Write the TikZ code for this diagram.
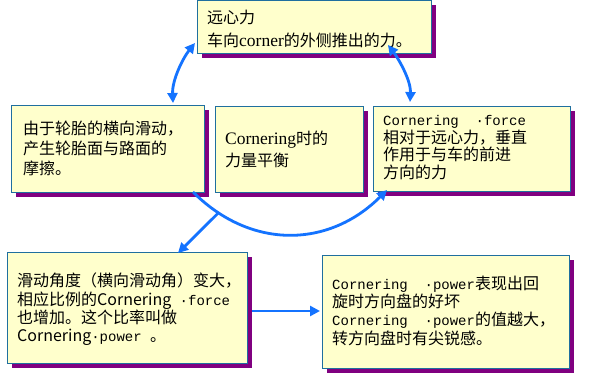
\documentclass[tikz,border=0pt]{standalone}
\usepackage{fontspec}
\setmainfont{Noto Sans CJK SC}
\newfontfamily\monofnt{Liberation Mono}
\newfontfamily\seriffnt{Liberation Serif}
\usetikzlibrary{arrows.meta,shadows}
\definecolor{boxfill}{RGB}{255,255,204}
\definecolor{boxline}{RGB}{31,111,159}
\definecolor{shadowc}{RGB}{128,0,128}
\definecolor{arrowc}{RGB}{20,115,255}
\newcommand\mn[1]{{\monofnt\fontsize{14}{14}\selectfont #1}}
\newcommand\sr[1]{{\seriffnt\fontsize{17.5}{17.5}\selectfont #1}}
\begin{document}
\begin{tikzpicture}[x=1pt,y=-1pt,
  box/.style={draw=boxline, fill=boxfill, line width=1.2pt, anchor=north west, inner sep=0pt,
    drop shadow={shadow xshift=4.5pt, shadow yshift=-4.5pt, fill=shadowc, opacity=1}},
  txt/.style={anchor=west, align=left, inner sep=0pt},
  arr/.style={draw=arrowc, line width=2.8pt, -{Triangle[length=10pt,width=10pt]}},
  arrb/.style={draw=arrowc, line width=2.8pt, {Triangle[length=10pt,width=10pt]}-{Triangle[length=10pt,width=10pt]}},
]
\useasboundingbox[fill=white] (0,0) rectangle (591,374);

% boxes
\node[box, minimum width=234pt, minimum height=53pt] (top) at (197,0) {};
\node[box, minimum width=193pt, minimum height=87pt] (A) at (11,105) {};
\node[box, minimum width=148pt, minimum height=86pt] (B) at (215,106) {};
\node[box, minimum width=197pt, minimum height=85pt] (C) at (373,106) {};
\node[box, minimum width=240pt, minimum height=111pt] (D) at (7,252) {};
\node[box, minimum width=247pt, minimum height=113pt] (E) at (322,255) {};

% texts
\node[txt, font=\fontsize{16}{23}\selectfont] (ttop) at (207,28.5)
  {远心力\\车向\sr{corner}的外侧推出的力。};
\node[txt, font=\fontsize{16}{20}\selectfont] (tA) at (23,148)
  {由于轮胎的横向滑动，\\产生轮胎面与路面的\\摩擦。};
\node[txt, font=\fontsize{16}{22}\selectfont] (tB) at (225,149)
  {\sr{Cornering}时的\\力量平衡};
\node[txt, font=\fontsize{16}{17.7}\selectfont] (tC) at (383,147.5)
  {\mn{Cornering\ \ ·force}\\相对于远心力，垂直\\作用于与车的前进\\方向的力};
\node[txt, font=\fontsize{16}{18.3}\selectfont] (tD) at (17,309.5)
  {滑动角度（横向滑动角）变大，\\相应比例的Cornering\mn{ ·force}\\也增加。这个比率叫做\\Cornering\mn{·power }。};
\node[txt, font=\fontsize{16}{18.3}\selectfont] (tE) at (332,310.5)
  {\mn{Cornering\ \ ·power}表现出回\\旋时方向盘的好坏\\\mn{Cornering\ \ ·power}的值越大，\\转方向盘时有尖锐感。};

% connector end points
\coordinate (l1) at (195,43);
\coordinate (l2) at (173,103);
\coordinate (r1) at (388,45);
\coordinate (r2) at (410,102);
\coordinate (b1) at (193,192);
\coordinate (b2) at (387,190);
\coordinate (dtip) at (178,253);
\coordinate (h1) at (252,311);
\coordinate (h2) at (320,311);

\draw[arrb] (l1) .. controls (183,58) and (172,80) .. (l2);
\draw[arrb] (r1) .. controls (398,58) and (411,80) .. (r2);
\draw[arr] (b1) .. controls (251,250) and (329,248) .. coordinate[pos=0.14] (bm) (b2);
\draw[arr] (bm) -- (dtip);
\draw[arr] (h1) -- (h2);
\end{tikzpicture}
\end{document}
